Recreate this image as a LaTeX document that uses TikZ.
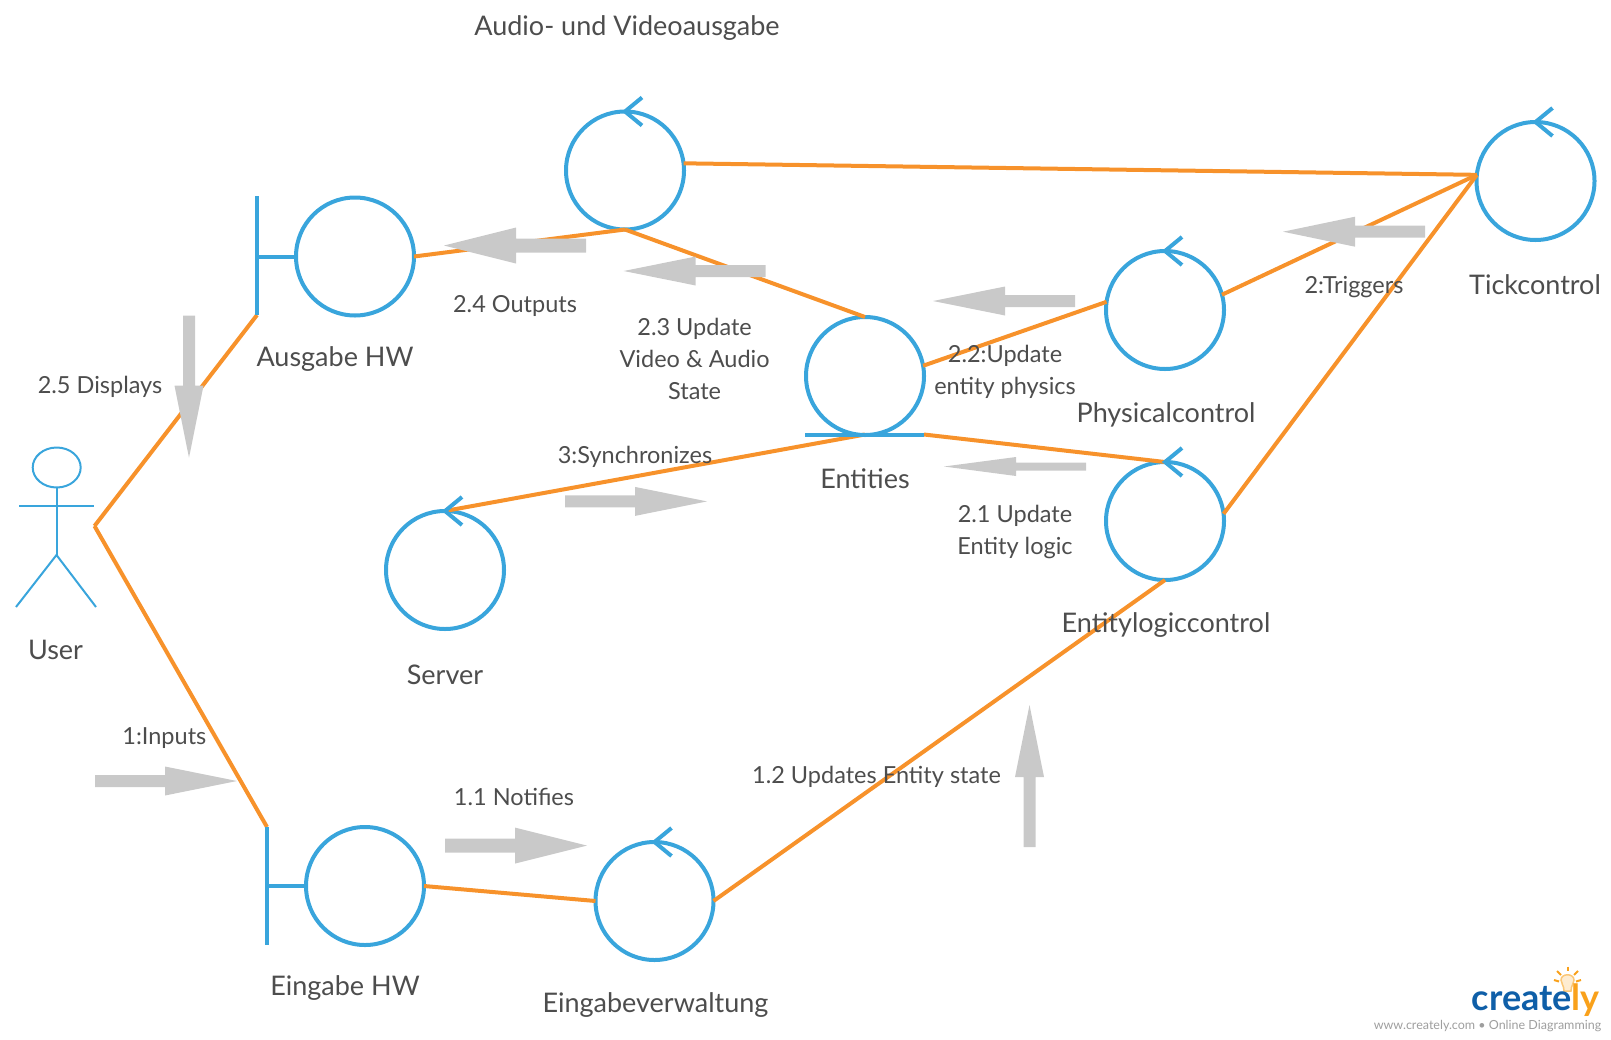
\documentclass[tikz,border=0pt]{standalone}
\usepackage{fontspec}
\setmainfont{Lato}
\usetikzlibrary{calc}
\definecolor{lineblue}{HTML}{39A5DC}
\definecolor{lineorange}{HTML}{F7922B}
\definecolor{flowgray}{HTML}{C9C9C9}
\definecolor{labelgray}{HTML}{4D4D4D}
\definecolor{logoblue}{HTML}{0F5FA8}
\definecolor{logoorange}{HTML}{F9A11B}
\tikzset{
	robust/.style={draw=lineblue, line width=4pt, circle, minimum size=118pt, inner sep=0pt, outer sep=0pt},
	blueline/.style={draw=lineblue, line width=4pt},
	actorline/.style={draw=lineblue, line width=2pt},
	link/.style={draw=lineorange, line width=4pt},
	biglabel/.style={text=labelgray, font=\fontsize{27}{32}\selectfont, inner sep=0pt},
	smalllabel/.style={text=labelgray, font=\fontsize{23.5}{32}\selectfont, align=center, inner sep=0pt},
}
% tip at (x,y), angle, shaft width, head width
\newcommand{\flowarrow}[5]{\fill[flowgray, shift={(#1,#2)}, rotate=#3] (0,0) -- (72,#5/2) -- (72,#4/2) -- (142,#4/2) -- (142,-#4/2) -- (72,-#4/2) -- (72,-#5/2) -- cycle;}
\newcommand{\ctrlmark}[1]{\draw[blueline] ([shift={(17,-14)}]#1.north) -- (#1.north) -- ([shift={(17,14)}]#1.north);}
\begin{document}
\begin{tikzpicture}[x=1pt, y=-1pt]
	\useasboundingbox (0,0) rectangle (1611,1039);

	\node[robust] (audio) at (625,170.5) {};
	\node[robust] (tick) at (1535.5,181) {};
	\node[robust] (physical) at (1165,310) {};
	\node[robust] (logic) at (1165,521) {};
	\node[robust] (server) at (445,570) {};
	\node[robust] (input) at (654.5,901) {};
	\node[robust] (ausgabe) at (355,256.5) {};
	\node[robust] (eingabe) at (365,886) {};
	\node[robust] (entities) at (865,376) {};

	\coordinate (user) at (94.5,526);
	\coordinate (ausgabetop) at (257,196);
	\coordinate (ausgabemid) at (257,256.5);
	\coordinate (ausgabebot) at (257,315);
	\coordinate (eingabetop) at (267,827);
	\coordinate (eingabemid) at (267,886);
	\coordinate (eingabebot) at (267,945);
	\coordinate (entitiesleft) at (805,434.5);
	\coordinate (entitiesright) at (924,434.5);
	\coordinate (entitiesbot) at (865,434.5);

	\draw[link] (user) -- (ausgabebot);
	\draw[link] (user) -- (eingabetop);
	\draw[link] (ausgabe.east) -- (audio.south);
	\draw[link] (audio.south) -- (entities.north);
	\draw[link] (audio.7) -- (tick.174);
	\draw[link] (physical.15) -- (tick.174);
	\draw[link] (logic.7) -- (tick.174);
	\draw[link] (entities.10) -- (physical.172);
	\draw[link] (entitiesbot) -- (server.north);
	\draw[link] (entitiesright) -- (logic.north);
	\draw[link] (logic.south) -- (input.east);
	\draw[link] (eingabe.east) -- (input.west);

	\draw[blueline] (ausgabetop) -- (ausgabebot);
	\draw[blueline] (ausgabemid) -- (ausgabe.west);
	\draw[blueline] (eingabetop) -- (eingabebot);
	\draw[blueline] (eingabemid) -- (eingabe.west);
	\draw[blueline] (entitiesleft) -- (entitiesright);

	\ctrlmark{audio}
	\ctrlmark{tick}
	\ctrlmark{physical}
	\ctrlmark{logic}
	\ctrlmark{server}
	\ctrlmark{input}

	\draw[actorline] (56.7,467.5) ellipse (24 and 20);
	\coordinate (neck) at (56.5,487.5);
	\coordinate (hip) at (56.5,555);
	\coordinate (handl) at (19,506);
	\coordinate (handr) at (94,506);
	\coordinate (footl) at (16,607);
	\coordinate (footr) at (96,607);
	\draw[actorline] (neck) -- (hip);
	\draw[actorline] (handl) -- (handr);
	\draw[actorline] (footl) -- (hip) -- (footr);

	\flowarrow{444}{245.5}{0}{14}{36}
	\flowarrow{623.7}{271}{0}{12}{29}
	\flowarrow{933}{301}{0}{12}{29}
	\flowarrow{944}{466.5}{0}{8}{19}
	\flowarrow{1283}{231.7}{0}{12}{30}
	\flowarrow{189}{457.7}{90}{12}{29}
	\flowarrow{707}{501.4}{180}{12}{29}
	\flowarrow{237}{781}{180}{12}{29}
	\flowarrow{587}{845.6}{180}{14}{36}
	\flowarrow{1029.5}{705}{270}{12}{29}

	\node[biglabel] (titlelabel) at (627,27.7) {Audio- und Videoausgabe};
	\node[biglabel] (ausgabelabel) at (335,358.6) {Ausgabe HW};
	\node[biglabel] (userlabel) at (55.5,649.5) {User};
	\node[biglabel] (eingabelabel) at (345,988.5) {Eingabe HW};
	\node[biglabel] (inputlabel) at (655.5,1005) {Eingabeverwaltung};
	\node[biglabel] (logiclabel) at (1166,624.7) {Entitylogiccontrol};
	\node[biglabel] (serverlabel) at (445,675) {Server};
	\node[biglabel] (entitieslabel) at (865,479) {Entities};
	\node[biglabel] (physicallabel) at (1166,415) {Physicalcontrol};
	\node[biglabel] (ticklabel) at (1535,284.6) {Tickcontrol};

	\node[smalllabel] (displays) at (100,386.7) {2.5 Displays};
	\node[smalllabel] (inputs) at (164.4,737.7) {1:Inputs};
	\node[smalllabel] (notifies) at (514,797) {1.1 Notifies};
	\node[smalllabel] (updates) at (876.5,776.8) {1.2 Updates Entity state};
	\node[smalllabel] (sync) at (635,457) {3:Synchronizes};
	\node[smalllabel] (entitylogic) at (1015,532) {2.1 Update\\Entity logic};
	\node[smalllabel] (entityphysics) at (1005,372) {2.2:Update\\entity physics};
	\node[smalllabel] (videoaudio) at (694.6,358.6) {2.3 Update\\Video \& Audio\\State};
	\node[smalllabel] (outputs) at (515,306) {2.4 Outputs};
	\node[smalllabel] (triggers) at (1354,286.7) {2:Triggers};

	\draw[logoorange, line width=2pt] (1567.7,966.5) -- (1567.7,971);
	\draw[logoorange, line width=2pt] (1557,971) -- (1561,975);
	\draw[logoorange, line width=2pt] (1578,971) -- (1574,975);
	\draw[logoorange, line width=2pt] (1554,980) -- (1559,981.5);
	\draw[logoorange, line width=2pt] (1581,980) -- (1576,981.5);
	\draw[logoorange!60, line width=1.5pt, fill=logoorange!20] (1567.7,974) circle (0pt) (1564,991) .. controls (1564,985) and (1561,984) .. (1561,980) .. controls (1561,973) and (1574,973) .. (1574,980) .. controls (1574,984) and (1571,985) .. (1571,991) -- cycle;
	\node[inner sep=0pt, anchor=base east, font=\fontsize{36}{36}\selectfont\bfseries] (logo) at (1600,1010) {\textcolor{logoblue}{create}\textcolor{logoorange}{ly}};
	\node[inner sep=0pt, font=\fontsize{12.5}{14}\selectfont, text=black!38] (logosub) at (1487.5,1026) {www.creately.com • Online Diagramming};
\end{tikzpicture}
\end{document}
